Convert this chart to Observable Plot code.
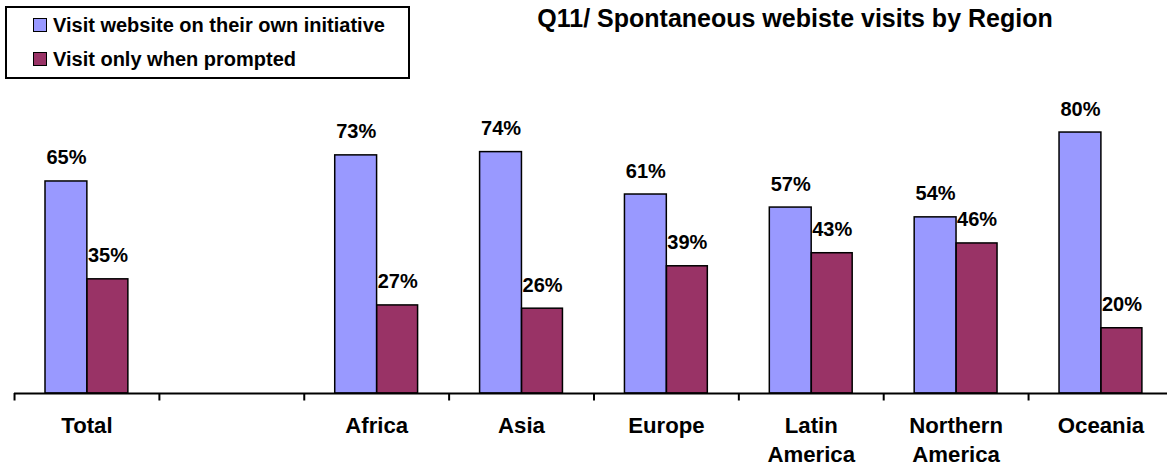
<!DOCTYPE html>
<html><head><meta charset="utf-8">
<script src="https://cdn.jsdelivr.net/npm/d3@7"></script>
<script src="https://cdn.jsdelivr.net/npm/@observablehq/plot@0.6"></script>
<style>
body{margin:0;background:#fff;font-family:"Liberation Sans",Arial,sans-serif;font-weight:bold;color:#000;}
#wrap{position:relative;width:1167px;height:465px;overflow:hidden;}
#chart{position:absolute;left:0;top:0;}
#legend{position:absolute;left:5px;top:6px;width:405px;height:73px;box-sizing:border-box;border:2px solid #000;background:#fff;}
.item{position:absolute;font-size:20px;line-height:20px;white-space:nowrap;}
.sw{position:absolute;width:14px;height:14px;box-sizing:border-box;border:1.5px solid #000;}
#title{position:absolute;left:395px;width:800px;top:6px;text-align:center;font-size:25px;line-height:25px;white-space:nowrap;}
</style></head>
<body>
<div id="wrap">
  <div id="chart"></div>
  <div id="legend"></div>
  <div id="title"></div>
</div>
<script>
const titleText = "Q11/ Spontaneous webiste visits by Region";
const seriesNames = ["Visit website on their own initiative", "Visit only when prompted"];
const seriesColors = ["#9999FF", "#993366"];
const categories = ["Total", "", "Africa", "Asia", "Europe", "Latin America", "Northern America", "Oceania"];
const categoryLabels = ["Total", "", "Africa", "Asia", "Europe", "Latin\nAmerica", "Northern\nAmerica", "Oceania"];
const ownInitiative = [65, null, 73, 74, 61, 57, 54, 80];
const prompted = [35, null, 27, 26, 39, 43, 46, 20];

document.getElementById("title").textContent = titleText;
const legend = document.getElementById("legend");
seriesNames.forEach((name, i) => {
  const sw = document.createElement("div");
  sw.className = "sw";
  sw.style.background = seriesColors[i];
  sw.style.left = "26px";
  sw.style.top = (i === 0 ? 10 : 44) + "px";
  legend.appendChild(sw);
  const t = document.createElement("div");
  t.className = "item";
  t.style.left = "46px";
  t.style.top = (i === 0 ? 7 : 41) + "px";
  t.textContent = name;
  legend.appendChild(t);
});

const rows = categories.map((c, i) => ({c, own: ownInitiative[i], pr: prompted[i], label: categoryLabels[i]}));
const valid = rows.filter(d => d.own != null);
const font = "Liberation Sans, Arial, sans-serif";

const chart = Plot.plot({
  width: 1167, height: 465,
  marginLeft: 14, marginRight: 0, marginTop: 67, marginBottom: 72,
  x: {domain: categories, range: [14, 1172.9], padding: 0, round: false, axis: null},
  y: {domain: [0, 100], range: [393, 66.8], axis: null},
  style: {fontFamily: font, fontWeight: "bold", fontSize: "20px", color: "#000", background: "transparent", overflow: "visible"},
  marks: [
    Plot.barY(valid, {x: "c", y: "own", fill: seriesColors[0], stroke: "#000", strokeWidth: 1.5, insetLeft: 31, insetRight: 72}),
    Plot.barY(valid, {x: "c", y: "pr", fill: seriesColors[1], stroke: "#000", strokeWidth: 1.5, insetLeft: 73, insetRight: 31}),
    Plot.ruleY([0], {stroke: "#000", strokeWidth: 2}),
    Plot.ruleX(categories, {x: d => d, y1: 0, y2: -2.3, dx: -72.4, stroke: "#000", strokeWidth: 2}),
    Plot.text(valid, {x: "c", y: "own", text: d => d.own + "%", dx: -20.5, dy: -17, lineAnchor: "bottom", fontSize: 20, fontWeight: "bold", fill: "#000"}),
    Plot.text(valid, {x: "c", y: "pr", text: d => d.pr + "%", dx: 21, dy: -17, lineAnchor: "bottom", fontSize: 20, fontWeight: "bold", fill: "#000"}),
    Plot.text(rows, {x: "c", y: 0, text: "label", lineAnchor: "top", dy: 19, fontSize: 22.2, lineHeight: 1.3, fontWeight: "bold", fill: "#000"})
  ]
});
document.getElementById("chart").appendChild(chart);
</script>
</body></html>
